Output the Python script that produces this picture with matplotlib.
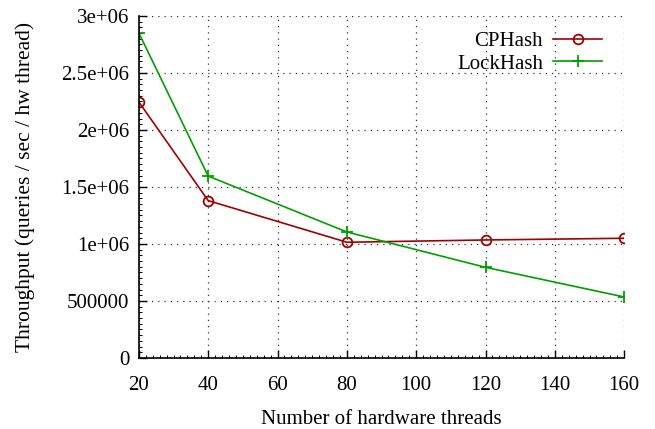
import matplotlib
matplotlib.use("Agg")
import matplotlib.pyplot as plt
from matplotlib.ticker import MultipleLocator

plt.rcParams['font.family'] = ['Liberation Serif', 'DejaVu Serif']
plt.rcParams['font.size'] = 15

# data
threads = [20, 40, 80, 120, 160]
cphash = [2.245e6, 1.38e6, 1.015e6, 1.035e6, 1.05e6]
lockhash = [2.85e6, 1.595e6, 1.105e6, 0.795e6, 0.535e6]

fig = plt.figure(figsize=(6.55, 4.29), dpi=100)
ax = fig.add_axes([0.212, 0.1655, 0.741, 0.7975])

ax.plot(threads, cphash, color='#a00000', lw=1.2, marker='o', ms=7,
        mfc='none', mec='#a00000', mew=1.3, label='CPHash')
ax.plot(threads, lockhash, color='#00a000', lw=1.2, marker='+', ms=9,
        mew=1.3, label='LockHash')

ax.set_xlim(20, 160)
ax.set_ylim(0, 3e6)
ax.xaxis.set_major_locator(MultipleLocator(20))
ax.xaxis.set_minor_locator(MultipleLocator(2))
ax.yaxis.set_minor_locator(MultipleLocator(5e4))

ylabels = ['0', '500000', '1e+06', '1.5e+06', '2e+06', '2.5e+06', '3e+06']
ax.set_yticks([i * 5e5 for i in range(7)])
ax.set_yticklabels(ylabels)

ax.tick_params(which='major', direction='in', length=6, width=1.0, pad=7)
ax.tick_params(which='minor', direction='in', length=2.5, width=0.7)
ax.tick_params(axis='x', pad=13)

ax.grid(True, which='major', linestyle=(0, (1, 4)), color='#333333', lw=0.9)
for s in ['top', 'right']:
    ax.spines[s].set_visible(False)
for s in ['left', 'bottom']:
    ax.spines[s].set_linewidth(1.2)

ax.set_xlabel('Number of hardware threads', labelpad=11)
ax.set_ylabel('Throughput (queries / sec / hw thread)', labelpad=19,
              fontsize=15.5)

leg = ax.legend(loc='upper right', frameon=False, markerfirst=False,
                handlelength=2.35, handletextpad=0.5, borderpad=0,
                borderaxespad=0, labelspacing=0.15,
                bbox_to_anchor=(0.955, 0.955))

fig.savefig('out.png', dpi=100)
